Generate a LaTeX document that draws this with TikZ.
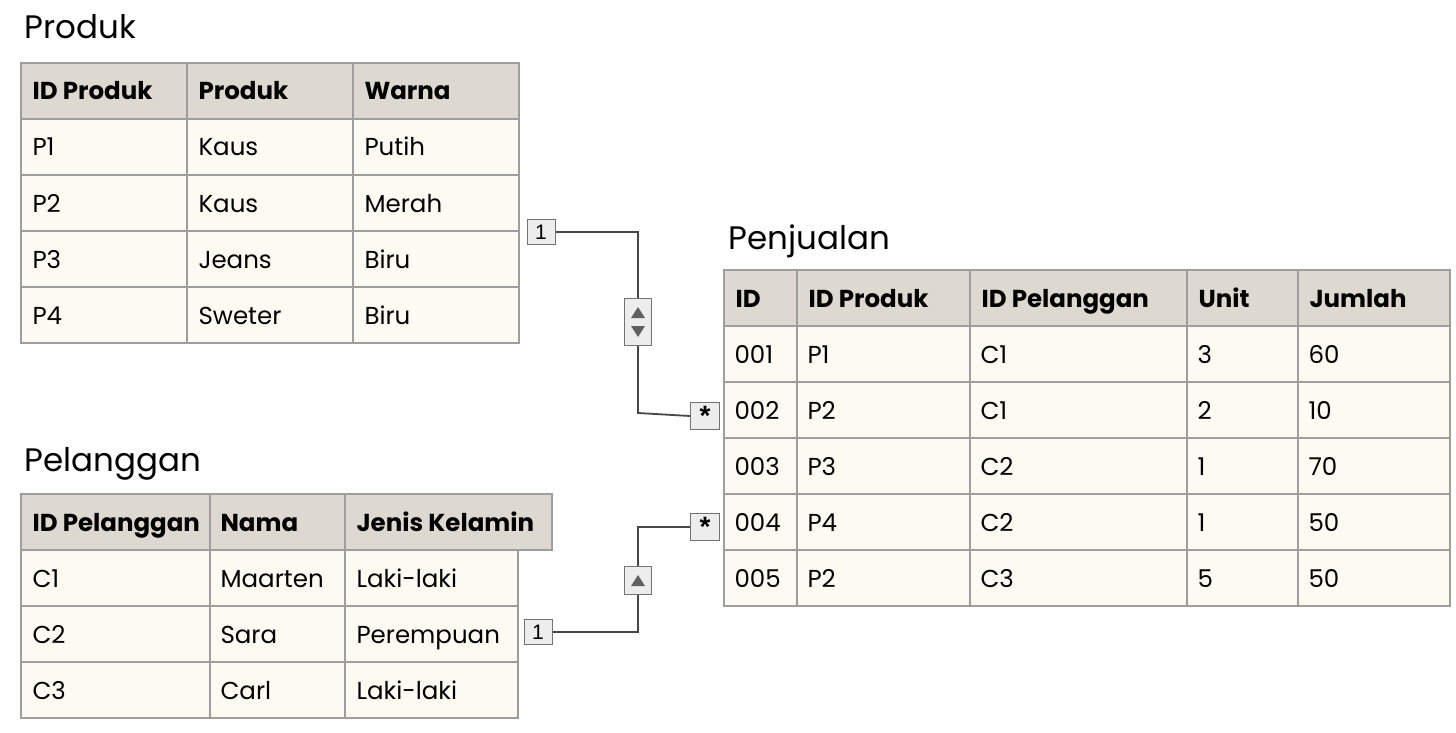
\documentclass[tikz,border=0pt]{standalone}
\usepackage{fontspec}
\setmainfont{Poppins}
\newfontfamily\markfont{Liberation Sans}
\begin{document}
\begin{tikzpicture}[x=1pt,y=-1pt,
  hdr/.style={draw=black!38,fill=hdrc,line width=1.2pt},
  cell/.style={draw=black!38,fill=cellc,line width=1.2pt},
  ttl/.style={anchor=base west,font=\fontsize{32.5}{36}\selectfont},
  txt/.style={anchor=base west,yshift=-9pt,font=\fontsize{24.5}{28}\selectfont},
  htxt/.style={anchor=base west,yshift=-9pt,font=\fontsize{24.5}{28}\selectfont\bfseries},
  mbox/.style={draw=black!55,fill=black!7,line width=1pt,minimum width=28pt,minimum height=25pt,inner sep=0pt,font=\markfont\fontsize{21}{22}\selectfont},
  sbox/.style={mbox,minimum width=29pt,minimum height=27pt,font=\markfont\fontsize{28}{28}\selectfont\bfseries},
  conn/.style={draw=black!72,line width=1.8pt},
  tri/.style={fill=black!62}]
\definecolor{hdrc}{HTML}{DDD9D0}
\definecolor{cellc}{HTML}{FDFAF2}
\useasboundingbox (0,0) rectangle (1456,733);
\fill[white] (0,0) rectangle (1456,733);
% Produk
\node[ttl] (tprod) at (21,39) {Produk};
\def\xs{{21,187,353,519}}
\foreach \c in {0,1,2}{
  \pgfmathsetmacro\xa{\xs[\c]}\pgfmathsetmacro\xb{\xs[\c+1]}
  \draw[hdr] (\xa,63) rectangle (\xb,119);
  \foreach \r in {0,...,3}{\draw[cell] (\xa,119+56*\r) rectangle (\xb,175+56*\r);}
}
\foreach \t [count=\i from 0] in {ID Produk,Produk,Warna}{\pgfmathsetmacro\xa{\xs[\i]}\node[htxt] (ph\i) at (\xa+8,91) {\t};}
\foreach \a/\b/\c [count=\r from 0] in {P1/Kaus/Putih,P2/Kaus/Merah,P3/Jeans/Biru,P4/Sweter/Biru}{
  \node[txt] (pa\r) at (29,147+56*\r) {\a};
  \node[txt] (pb\r) at (195,147+56*\r) {\b};
  \node[txt] (pc\r) at (361,147+56*\r) {\c};}
% Pelanggan
\node[ttl] (tpel) at (21,471) {Pelanggan};
\draw[hdr] (21,494) rectangle (210,550);
\draw[hdr] (210,494) rectangle (345,550);
\draw[hdr] (345,494) rectangle (552,550);
\foreach \r in {0,1,2}{
  \draw[cell] (21,550+56*\r) rectangle (210,606+56*\r);
  \draw[cell] (210,550+56*\r) rectangle (345,606+56*\r);
  \draw[cell] (345,550+56*\r) rectangle (518,606+56*\r);}
\node[htxt] (gh0) at (29,522) {ID Pelanggan};
\node[htxt] (gh1) at (217,522) {Nama};
\node[htxt] (gh2) at (353,522) {Jenis Kelamin};
\foreach \a/\b/\c [count=\r from 0] in {C1/Maarten/Laki-laki,C2/Sara/Perempuan,C3/Carl/Laki-laki}{
  \node[txt] (ga\r) at (29,578+56*\r) {\a};
  \node[txt] (gb\r) at (217,578+56*\r) {\b};
  \node[txt] (gc\r) at (353,578+56*\r) {\c};}
% Penjualan
\node[ttl] (tpen) at (725,249) {Penjualan};
\def\xj{{724,797,970,1187,1298,1450}}
\foreach \c in {0,...,4}{
  \pgfmathsetmacro\xa{\xj[\c]}\pgfmathsetmacro\xb{\xj[\c+1]}
  \draw[hdr] (\xa,270) rectangle (\xb,326);
  \foreach \r in {0,...,4}{\draw[cell] (\xa,326+56*\r) rectangle (\xb,382+56*\r);}
}
\foreach \t [count=\i from 0] in {ID,ID Produk,ID Pelanggan,Unit,Jumlah}{\pgfmathsetmacro\xa{\xj[\i]}\node[htxt] (jh\i) at (\xa+8,298) {\t};}
\foreach \a/\b/\c/\d/\e [count=\r from 0] in {001/P1/C1/3/60,002/P2/C1/2/10,003/P3/C2/1/70,004/P4/C2/1/50,005/P2/C3/5/50}{
  \node[txt] (ja\r) at (731,354+56*\r) {\a};
  \node[txt] (jb\r) at (804,354+56*\r) {\b};
  \node[txt] (jc\r) at (977,354+56*\r) {\c};
  \node[txt] (jd\r) at (1194,354+56*\r) {\d};
  \node[txt] (je\r) at (1305,354+56*\r) {\e};}
% connectors
\node[mbox] (one1) at (541,232) {1};
\node[sbox] (st1) at (705,416) {*};
\node[mbox,minimum width=27pt,minimum height=47pt] (ud) at (638,322) {};
\node[mbox] (one2) at (538,632) {1};
\node[sbox] (st2) at (705,527) {*};
\node[mbox,minimum width=27pt,minimum height=28pt] (up) at (638,580) {};
\coordinate (k1) at (638,232); \coordinate (k2) at (638,413);
\coordinate (k3) at (638,632); \coordinate (k4) at (638,527);
\draw[conn] (one1.east) -- (k1) -- (ud.north);
\draw[conn] (ud.south) -- (k2) -- (st1.west);
\draw[conn] (one2.east) -- (k3) -- (up.south);
\draw[conn] (up.north) -- (k4) -- (st2.west);
\fill[tri] (631,318) -- (645,318) -- (638,307) -- cycle;
\fill[tri] (631,326) -- (645,326) -- (638,337) -- cycle;
\fill[tri] (631,586) -- (645,586) -- (638,575) -- cycle;
\end{tikzpicture}
\end{document}
